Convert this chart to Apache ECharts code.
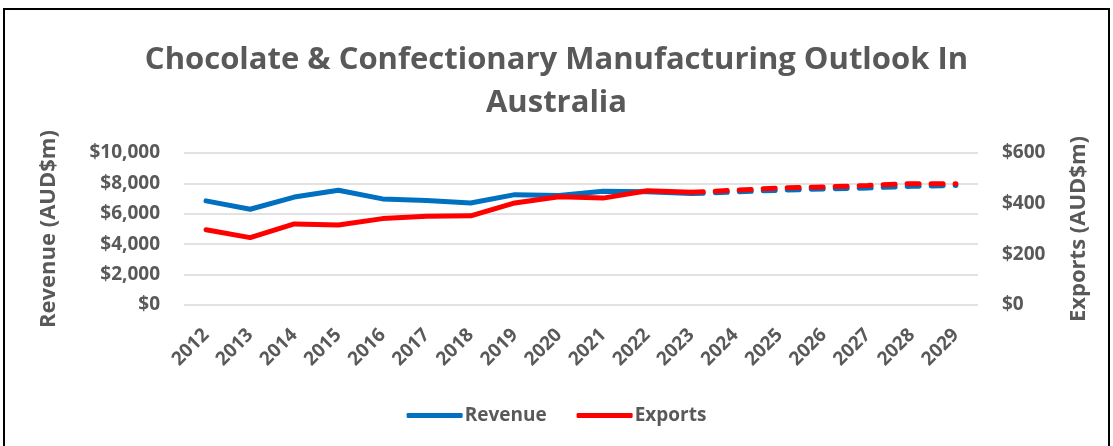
<!DOCTYPE html>
<html>
<head>
<meta charset="utf-8">
<script src="https://cdn.jsdelivr.net/npm/echarts@6/dist/echarts.min.js"></script>
<style>
  html, body { margin: 0; padding: 0; background: #fff; }
  #chart { width: 1113px; height: 446px; }
</style>
</head>
<body>
<div id="chart"></div>
<script>
// data
const years = ['2012', '2013', '2014', '2015', '2016', '2017', '2018', '2019', '2020',
  '2021', '2022', '2023', '2024', '2025', '2026', '2027', '2028', '2029']
// actuals 2012-2023
const revenueActual = [6850, 6300, 7100, 7550, 6980, 6880, 6710, 7260, 7200, 7480, 7450, 7330]
const exportsActual = [297, 266, 320, 316, 341, 350, 352, 403, 427, 422, 451, 445]
// forecast 2023-2029 (starts at the last actual point)
const revenueForecast = [7330, 7440, 7550, 7640, 7700, 7810, 7870]
const exportsForecast = [445, 453, 462, 466, 472, 479, 479]
const revenueTicks = ['$0', '$2,000', '$4,000', '$6,000', '$8,000', '$10,000']
const exportsTicks = ['$0', '$200', '$400', '$600']

const grey = '#595959'
const font = 'Open Sans'
const blue = '#0070c0'
const red = '#ff0000'

// pad actual / forecast to full length of the category axis
function solidPart(arr) {
  return years.map((y, i) => (i < arr.length ? arr[i] : null))
}
function dashedPart(arr) {
  const start = years.length - arr.length
  return years.map((y, i) => (i >= start ? arr[i - start] : null))
}

const chart = echarts.init(document.getElementById('chart'))
chart.setOption({
  animation: false,
  textStyle: { fontFamily: font },
  title: {
    text: 'Chocolate & Confectionary Manufacturing Outlook In\nAustralia',
    left: 'center',
    top: 34,
    textStyle: {
      fontFamily: font,
      fontSize: 31,
      fontWeight: 'bold',
      color: grey,
      lineHeight: 43
    }
  },
  legend: {
    bottom: 16,
    left: 'center',
    icon: 'roundRect',
    itemWidth: 56,
    itemHeight: 5,
    itemGap: 30,
    data: ['Revenue', 'Exports'],
    textStyle: { fontFamily: font, fontSize: 19, fontWeight: 'bold', color: grey, padding: [0, 0, 0, -3] }
  },
  graphic: [
    {
      type: 'rect',
      shape: { x: 4, y: 9, width: 1105, height: 460 },
      style: { fill: 'none', stroke: '#000', lineWidth: 2 },
      silent: true
    }
  ],
  grid: {
    left: 184,
    right: 135,
    top: 153,
    bottom: 141
  },
  xAxis: {
    type: 'category',
    data: years,
    boundaryGap: true,
    axisLine: { show: false },
    axisTick: { show: false },
    axisLabel: {
      rotate: 45,
      margin: 27,
      fontFamily: font,
      fontSize: 19,
      fontWeight: 'bold',
      color: grey,
      interval: 0
    }
  },
  yAxis: [
    {
      type: 'value',
      min: 0,
      max: 10000,
      interval: 2000,
      name: 'Revenue (AUD$m)',
      nameLocation: 'middle',
      nameRotate: 90,
      nameGap: 124,
      nameTextStyle: { fontFamily: font, fontSize: 22, fontWeight: 'bold', color: grey },
      axisLine: { show: false },
      axisTick: { show: false },
      axisLabel: {
        margin: 24,
        fontFamily: font,
        fontSize: 19,
        fontWeight: 'bold',
        color: grey,
        formatter: v => revenueTicks[v / 2000]
      },
      splitLine: { lineStyle: { color: '#d9d9d9', width: 1.5 } }
    },
    {
      type: 'value',
      min: 0,
      max: 600,
      interval: 200,
      name: 'Exports (AUD$m)',
      nameLocation: 'middle',
      nameRotate: 90,
      nameGap: 90,
      nameTextStyle: { fontFamily: font, fontSize: 22, fontWeight: 'bold', color: grey },
      axisLine: { show: false },
      axisTick: { show: false },
      axisLabel: {
        margin: 24,
        fontFamily: font,
        fontSize: 19,
        fontWeight: 'bold',
        color: grey,
        formatter: v => exportsTicks[v / 200]
      },
      splitLine: { show: false }
    }
  ],
  series: [
    {
      name: 'Revenue',
      type: 'line',
      yAxisIndex: 0,
      data: solidPart(revenueActual),
      symbol: 'none',
      lineStyle: { color: blue, width: 5, cap: 'round', join: 'round' },
      itemStyle: { color: blue }
    },
    {
      name: 'Revenue',
      type: 'line',
      yAxisIndex: 0,
      data: dashedPart(revenueForecast),
      symbol: 'none',
      lineStyle: { color: blue, width: 5, type: [12, 12], cap: 'round' },
      itemStyle: { color: blue }
    },
    {
      name: 'Exports',
      type: 'line',
      yAxisIndex: 1,
      data: solidPart(exportsActual),
      symbol: 'none',
      lineStyle: { color: red, width: 5, cap: 'round', join: 'round' },
      itemStyle: { color: red }
    },
    {
      name: 'Exports',
      type: 'line',
      yAxisIndex: 1,
      data: dashedPart(exportsForecast),
      symbol: 'none',
      lineStyle: { color: red, width: 5, type: [12, 12], cap: 'round' },
      itemStyle: { color: red }
    }
  ]
})
</script>
</body>
</html>
